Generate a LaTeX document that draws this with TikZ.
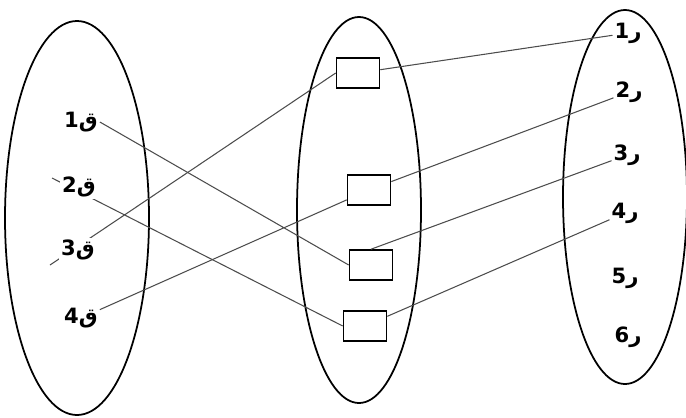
\documentclass[tikz,border=0pt]{standalone}
\usepackage{fontspec}
\newfontfamily\arabicfont[Script=Arabic]{DejaVu Sans}
\TeXXeTstate=1
\usepackage{tikz}
\usetikzlibrary{positioning}

\begin{document}
\begin{tikzpicture}[every node/.style={font=\small}]
    \tikzset{lbl/.style={inner sep=1pt, fill=white, font=\large\arabicfont\bfseries},
             box/.style={rectangle, draw, line width=0.9pt, minimum width=0.86cm, minimum height=0.6cm, inner sep=0pt, fill=white},
             lnk/.style={gray!60!black, line width=0.6pt}}
    \useasboundingbox (0,0) rectangle (13.72,-8.34);
    \draw[line width=1pt] (1.54,-4.36) ellipse (1.44 and 3.94);
    \draw[line width=1pt] (7.18,-4.2) ellipse (1.24 and 3.86);
    \draw[line width=1pt] (12.5,-3.94) ellipse (1.24 and 3.74);
    % boxes in the middle set
    \node[box] (b1) at (7.16,-1.46) {};
    \node[box] (b2) at (7.38,-3.8) {};
    \node[box] (b3) at (7.42,-5.3) {};
    \node[box] (b4) at (7.3,-6.52) {};
    \coordinate (t2) at (1.04,-3.56);
    \coordinate (t3) at (1.0,-5.3);
    \draw[lnk] (t2) -- (b4.west) (t3) -- (b1.west);
    % left labels
    \node[lbl] (l1) at (1.62,-2.44) {\beginR ق1\endR};
    \node[lbl] (l2) at (1.58,-3.74) {\beginR ق2\endR};
    \node[lbl] (l3) at (1.56,-5.0) {\beginR ق3\endR};
    \node[lbl] (l4) at (1.62,-6.36) {\beginR ق4\endR};
    % right labels
    \node[lbl] (r1) at (12.56,-0.66) {\beginR ر1\endR};
    \node[lbl] (r2) at (12.58,-1.84) {\beginR ر2\endR};
    \node[lbl] (r3) at (12.54,-3.1) {\beginR ر3\endR};
    \node[lbl] (r4) at (12.5,-4.26) {\beginR ر4\endR};
    \node[lbl] (r5) at (12.5,-5.56) {\beginR ر5\endR};
    \node[lbl] (r6) at (12.56,-6.74) {\beginR ر6\endR};
    \draw[lnk] (l1.east) -- (b3.west) (l4) -- (b2);
    \draw[lnk] (b1) -- (r1) (b2) -- (r2) (b3.north) -- (r3) (b4) -- (r4);
\end{tikzpicture}
\end{document}
